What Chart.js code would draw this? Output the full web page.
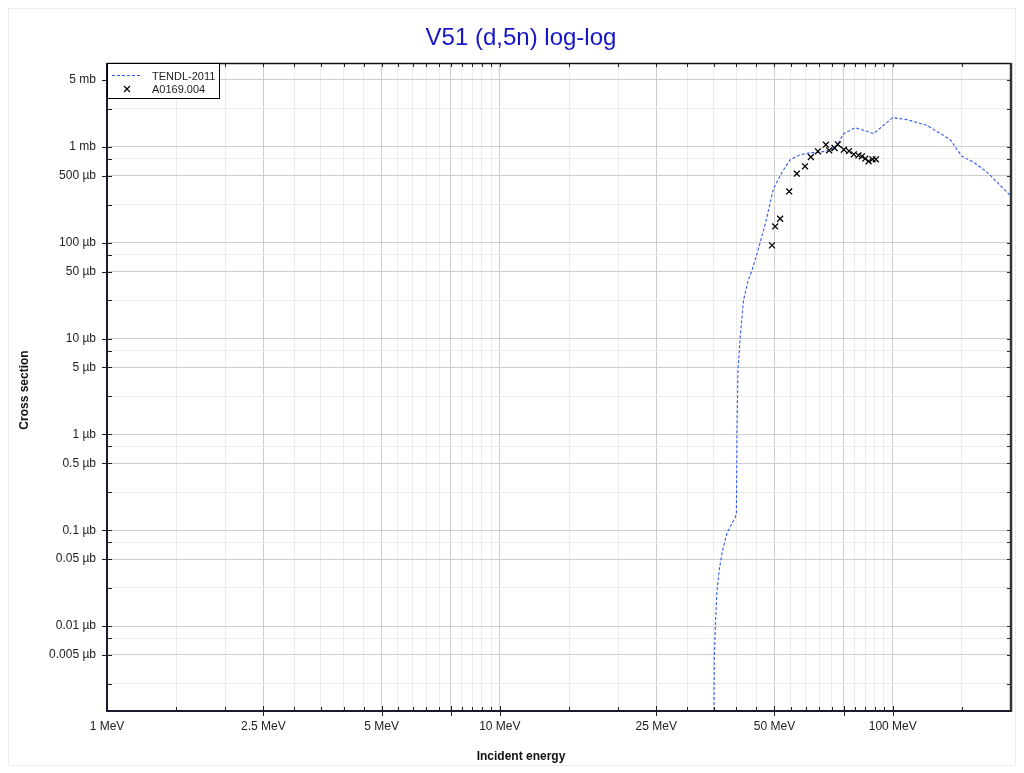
<!DOCTYPE html>
<html>
<head>
<meta charset="utf-8">
<script src="https://cdn.jsdelivr.net/npm/chart.js@4"></script>
<style>
html,body{margin:0;padding:0;background:#fff;}
canvas{display:block;}
</style>
</head>
<body>
<canvas id="c" width="1024" height="773"></canvas>
<script>
// ---- data ----
const titleText = 'V51 (d,5n) log-log';
const xTitle = 'Incident energy';
const yTitle = 'Cross section';
const seriesNames = ['TENDL-2011', 'A0169.004'];

// TENDL-2011 evaluation: energy (MeV), cross section (µb)
const tendlE  = [35.0, 35.08, 35.14, 35.35, 35.7, 36.25, 36.9, 37.86, 38.98, 39.74, 40.0, 40.14, 40.37, 40.9, 41.7, 42.8, 43.8, 45.1, 47.4, 49.7, 52.3, 54.8, 58.2, 61.7, 65.4, 69.3, 72.1, 75.0, 80.3, 89.4, 99.9, 108.7, 122.2, 140.1, 150.0, 160.6, 173.7, 198.2, 200];
const tendlXS = [0.0004, 0.0013, 0.0047, 0.0097, 0.0236, 0.041, 0.062, 0.093, 0.118, 0.136, 0.15, 1.1, 4.65, 10.3, 25, 40, 51, 76, 158, 366, 546, 735, 828, 869, 882, 919, 1037, 1374, 1586, 1374, 2018, 1923, 1676, 1189, 796, 693, 546, 317, 305];

// EXFOR A0169.004: energy (MeV), cross section (µb)
const expE  = [49.27, 50.2, 51.7, 54.5, 57.0, 59.8, 61.9, 64.5, 67.6, 68.9, 71.1, 72.5, 75.1, 77.4, 79.6, 81.8, 83.5, 85.1, 86.8, 88.8, 90.6];
const expXS = [93.8, 148, 178, 343, 525, 626, 783, 898, 1055, 920, 972, 1063, 935, 904, 835, 815, 796, 753, 706, 741, 741];

// axis ticks
const xTicks = [1,1.5,2,2.5,3,3.5,4,4.5,5,5.5,6,6.5,7,7.5,8,8.5,9,9.5,10,15,20,25,30,35,40,45,50,55,60,65,70,75,80,85,90,95,100,150,200];
const xMajor = [1,2.5,5,7.5,10,25,50,75,100];
const xLabelValues = [1,2.5,5,10,25,50,100];
const xLabelTexts  = ['1 MeV','2.5 MeV','5 MeV','10 MeV','25 MeV','50 MeV','100 MeV'];

const yTicks = [0.0025,0.005,0.0075,0.01,0.025,0.05,0.075,0.1,0.25,0.5,0.75,1,2.5,5,7.5,10,25,50,75,100,250,500,750,1000,2500,5000,7500];
const yLabelValues = [0.005,0.01,0.05,0.1,0.5,1,5,10,50,100,500,1000,5000];
const yLabelTexts  = ['0.005 µb','0.01 µb','0.05 µb','0.1 µb','0.5 µb','1 µb','5 µb','10 µb','50 µb','100 µb','500 µb','1 mb','5 mb'];

const xMin = 1, xMax = 200, yMin = 0.0013, yMax = 7500;

// ---- helpers ----
const key = v => Math.round(v * 1e6);
const xMajorSet = new Set(xMajor.map(key));
const xLabelMap = new Map(xLabelValues.map((v, i) => [key(v), xLabelTexts[i]]));
const yLabelMap = new Map(yLabelValues.map((v, i) => [key(v), yLabelTexts[i]]));

const FONT = '"Liberation Sans", Arial, sans-serif';
const BLUE = 'rgb(50,90,235)';

const decor = {
  id: 'decor',
  beforeDraw(chart) {
    const c = chart.ctx;
    c.save();
    c.fillStyle = '#fff';
    c.fillRect(0, 0, chart.width, chart.height);
    c.strokeStyle = '#ececec';
    c.lineWidth = 1;
    c.strokeRect(8.5, 8.5, 1007, 757);
    c.restore();
  },
  afterDraw(chart) {
    const c = chart.ctx;
    const a = chart.chartArea;
    const xs = chart.scales.x, ys = chart.scales.y;
    c.save();
    // ticks
    c.strokeStyle = '#222';
    c.lineWidth = 1;
    c.beginPath();
    xTicks.forEach(v => {
      if (v <= xMin || v >= xMax) return;
      const px = Math.round(xs.getPixelForValue(v)) + 0.5;
      const major = xMajorSet.has(key(v));
      c.moveTo(px, a.bottom - (major ? 5 : 4));
      c.lineTo(px, a.bottom + (major ? 5 : 0));
      c.moveTo(px, a.top);
      c.lineTo(px, a.top + 4);
    });
    yTicks.forEach(v => {
      if (v <= yMin || v >= yMax) return;
      const py = Math.round(ys.getPixelForValue(v)) + 0.5;
      const lab = yLabelMap.has(key(v));
      c.moveTo(a.left - (lab ? 5 : 0), py);
      c.lineTo(a.left + 5, py);
      c.moveTo(a.right - 4, py);
      c.lineTo(a.right, py);
    });
    c.stroke();
    // frame
    c.strokeStyle = '#111';
    c.lineWidth = 1.5;
    c.beginPath();
    c.moveTo(a.left, a.top + 0.5); c.lineTo(a.right, a.top + 0.5);
    c.stroke();
    c.strokeStyle = '#1a1a2e';
    c.lineWidth = 2;
    c.beginPath();
    c.moveTo(a.left, a.top); c.lineTo(a.left, a.bottom);
    c.moveTo(a.left - 1, a.bottom); c.lineTo(a.right, a.bottom);
    c.stroke();
    c.strokeStyle = '#333';
    c.lineWidth = 2.5;
    c.beginPath();
    c.moveTo(a.right, a.top); c.lineTo(a.right, a.bottom + 1);
    c.stroke();

    // legend
    const lx = 107, ly = 63, lw = 112, lh = 35;
    c.fillStyle = '#fff';
    c.fillRect(lx, ly, lw, lh);
    c.strokeStyle = '#000';
    c.lineWidth = 1;
    c.strokeRect(lx + 0.5, ly + 0.5, lw, lh);
    c.strokeStyle = BLUE;
    c.setLineDash([3, 2]);
    c.beginPath();
    c.moveTo(112, 75.5); c.lineTo(141, 75.5);
    c.stroke();
    c.setLineDash([]);
    c.strokeStyle = '#000';
    c.lineWidth = 1.2;
    c.beginPath();
    c.moveTo(124, 86); c.lineTo(130, 92);
    c.moveTo(130, 86); c.lineTo(124, 92);
    c.stroke();
    c.fillStyle = '#222';
    c.font = '11px ' + FONT;
    c.textAlign = 'left';
    c.textBaseline = 'alphabetic';
    c.fillText(seriesNames[0], 152, 79.5);
    c.fillText(seriesNames[1], 152, 92.5);

    // title
    c.fillStyle = '#1616c8';
    c.font = '24px ' + FONT;
    c.textAlign = 'center';
    c.fillText(titleText, 521, 45);

    // axis titles
    c.fillStyle = '#111';
    c.font = 'bold 12px ' + FONT;
    c.textBaseline = 'middle';
    c.fillText(xTitle, 521, 757);
    c.translate(25, 390);
    c.rotate(-Math.PI / 2);
    c.fillText(yTitle, 0, 0);
    c.restore();
  }
};

new Chart(document.getElementById('c'), {
  type: 'scatter',
  data: {
    datasets: [
      {
        label: seriesNames[0],
        data: tendlE.map((e, i) => ({x: e, y: tendlXS[i]})),
        showLine: true,
        borderColor: BLUE,
        borderWidth: 1.1,
        borderDash: [3, 2],
        pointRadius: 0,
        tension: 0,
        order: 2
      },
      {
        label: seriesNames[1],
        data: expE.map((e, i) => ({x: e, y: expXS[i]})),
        showLine: false,
        pointStyle: 'crossRot',
        pointRadius: 4.2,
        borderColor: '#000',
        backgroundColor: '#000',
        borderWidth: 1.3,
        order: 1
      }
    ]
  },
  options: {
    responsive: false,
    animation: false,
    devicePixelRatio: 1,
    layout: {padding: {left: 0, right: 13, top: 63, bottom: 0}},
    plugins: {legend: {display: false}, title: {display: false}, tooltip: {enabled: false}},
    scales: {
      x: {
        type: 'logarithmic',
        min: xMin, max: xMax,
        afterBuildTicks: s => { s.ticks = xTicks.map(v => ({value: v})); },
        afterFit: s => { s.height = 62; },
        border: {display: false},
        grid: {
          drawTicks: false,
          lineWidth: 1,
          color: ctx => (ctx.tick && xMajorSet.has(key(ctx.tick.value))) ? '#cdcdcd' : '#ececec'
        },
        ticks: {
          autoSkip: false, maxRotation: 0, minRotation: 0, padding: 8,
          color: '#222', font: {family: FONT, size: 12},
          callback: v => xLabelMap.get(key(v)) || ''
        }
      },
      y: {
        type: 'logarithmic',
        min: yMin, max: yMax,
        afterBuildTicks: s => { s.ticks = yTicks.map(v => ({value: v})); },
        afterFit: s => { s.width = 107; },
        border: {display: false},
        grid: {
          drawTicks: false,
          lineWidth: 1,
          color: ctx => (ctx.tick && yLabelMap.has(key(ctx.tick.value))) ? '#cdcdcd' : '#ececec'
        },
        ticks: {
          autoSkip: false, padding: 11,
          color: '#222', font: {family: FONT, size: 12},
          callback: v => yLabelMap.get(key(v)) || ''
        }
      }
    }
  },
  plugins: [decor]
});
</script>
</body>
</html>
